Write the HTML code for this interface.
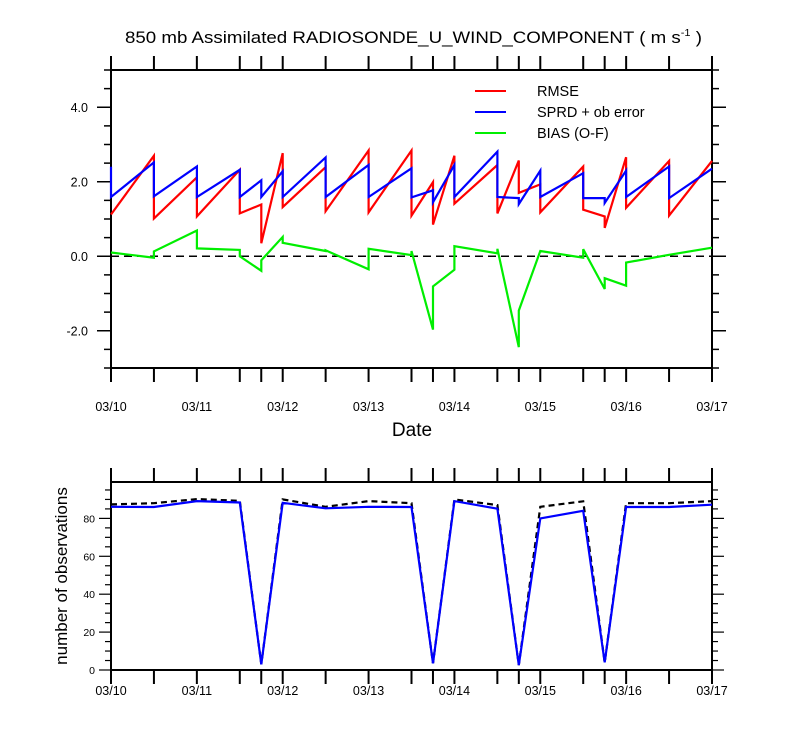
<!DOCTYPE html>
<html><head><meta charset="utf-8"><style>
body{margin:0;background:#fff;}
svg{display:block;font-family:"Liberation Sans",Arial,sans-serif;}
</style></head><body>
<svg id="chart" width="800" height="750"></svg>
<script>
const dateLabels=["03/10","03/11","03/12","03/13","03/14","03/15","03/16","03/17"];
const tickTimes=[0,0.5,1,1.5,1.75,2,2.5,3,3.5,3.75,4,4.5,4.75,5,5.5,5.75,6,6.5,7];
const rmseT=[0,0.5,0.5,1,1,1.5,1.5,1.75,1.75,2,2,2.5,2.5,3,3,3.5,3.5,3.75,3.75,4,4,4.5,4.5,4.75,4.75,5,5,5.5,5.5,5.75,5.75,6,6,6.5,6.5,7];
const rmseV=[1.12,2.7,1.01,2.12,1.07,2.32,1.15,1.39,0.35,2.77,1.32,2.39,1.21,2.84,1.18,2.84,1.09,1.99,0.85,2.7,1.41,2.45,1.15,2.57,1.7,1.93,1.18,2.41,1.25,1.07,0.76,2.66,1.3,2.56,1.09,2.56];
const sprdT=[0,0,0.5,0.5,1,1,1.5,1.5,1.75,1.75,2,2,2.5,2.5,3,3,3.5,3.5,3.75,3.75,4,4,4.5,4.5,4.75,4.75,5,5,5.5,5.5,5.75,5.75,6,6,6.5,6.5,7];
const sprdV=[2.4,1.59,2.52,1.61,2.41,1.59,2.32,1.59,2.04,1.59,2.28,1.59,2.65,1.59,2.45,1.59,2.36,1.58,1.77,1.45,2.45,1.59,2.81,1.59,1.56,1.4,2.3,1.59,2.23,1.56,1.56,1.43,2.3,1.59,2.41,1.56,2.35];
const biasT=[0,0.5,0.5,1,1,1.5,1.5,1.75,1.75,2,2,2.5,2.5,3,3,3.5,3.5,3.75,3.75,4,4,4.5,4.5,4.75,4.75,5,5.5,5.5,5.75,5.75,6,6,6.5,7];
const biasV=[0.1,-0.04,0.13,0.69,0.21,0.17,0,-0.39,-0.11,0.52,0.36,0.14,0.16,-0.35,0.2,0.03,0.14,-1.97,-0.81,-0.36,0.27,0.08,0.2,-2.44,-1.46,0.14,-0.04,0.19,-0.88,-0.59,-0.79,-0.17,0.04,0.23];
const topYTicks=[-2,0,2,4];
const topYLabels=["-2.0","0.0","2.0","4.0"];
const obsUsed=[86.1,86,89.1,88.4,3,88.2,85.3,86.1,86,3.5,89.1,85.1,2.6,80,84,4,86,86,87.2];
const obsPoss=[87.4,88,90.2,89.3,3,90,86.1,89.1,88,3.5,90,87,2.6,86.1,89,4,88,88,89.1];
const botYTicks=[0,20,40,60,80];

const NS="http://www.w3.org/2000/svg";
const svg=document.getElementById('chart');
function mk(tag,attrs,parent){const e=document.createElementNS(NS,tag);for(const k in attrs)e.setAttribute(k,attrs[k]);(parent||svg).appendChild(e);return e;}
const X0=111,X1=712;
const xS=t=>X0+(X1-X0)*t/7;
const T={top:70,bot:368,min:-3,max:5};
const yT=v=>T.bot-(v-T.min)/(T.max-T.min)*(T.bot-T.top);
const B={top:482,bot:670,min:0,max:99.2};
const yB=v=>B.bot-(v-B.min)/(B.max-B.min)*(B.bot-B.top);

// title
let t=mk('text',{x:125,y:43,'font-size':17,fill:'#000',textLength:577,lengthAdjust:'spacingAndGlyphs'});


t.innerHTML='850 mb Assimilated RADIOSONDE_U_WIND_COMPONENT ( m s<tspan font-size="10" dy="-7">-1</tspan><tspan dy="7"> )</tspan>';

function frame(top,bot,name){
  const r=mk('rect',{x:X0,y:top,width:X1-X0,height:bot-top,fill:'none',stroke:'#000','stroke-width':2});
  
  
  tickTimes.forEach(tt=>{
    const x=xS(tt);
    const a=mk('line',{x1:x,x2:x,y1:top-14,y2:top,stroke:'#000','stroke-width':2});
    
    
    const b=mk('line',{x1:x,x2:x,y1:bot,y2:bot+14,stroke:'#000','stroke-width':2});
    
    
  });
}
function xLabels(y,name){
  dateLabels.forEach((d,i)=>{
    const e=mk('text',{x:xS(i),y:y,'font-size':12.5,'text-anchor':'middle',fill:'#000'});
    
    
    e.textContent=d;
  });
}
// top panel
frame(T.top,T.bot,'top-plot-frame');
for(let v=T.min;v<=T.max+1e-9;v+=0.5){
  const y=yT(v);const maj=topYTicks.includes(v);
  const L=maj?14:7;
  const a=mk('line',{x1:X0-L,x2:X0,y1:y,y2:y,stroke:'#000','stroke-width':1.5});
  
  
  const b=mk('line',{x1:X1,x2:X1+L,y1:y,y2:y,stroke:'#000','stroke-width':1.5});
  
  
}
topYTicks.forEach((v,i)=>{
  const e=mk('text',{x:88,y:yT(v)+4.5,'font-size':12.5,'text-anchor':'end',fill:'#000'});
  
  
  e.textContent=topYLabels[i];
});
xLabels(411,'x-tick-label');
let dl=mk('text',{x:412,y:436,'font-size':19,'text-anchor':'middle',fill:'#000'});


dl.textContent='Date';
let zl=mk('line',{x1:X0,x2:X1,y1:yT(0),y2:yT(0),stroke:'#000','stroke-width':1.6,'stroke-dasharray':'8,5'});



function series(ts,vs,xf,yf,color,name,dash){
  const pts=ts.map((tt,i)=>xf(tt).toFixed(1)+','+yf(vs[i]).toFixed(1)).join(' ');
  const p=mk('polyline',{points:pts,fill:'none',stroke:color,'stroke-width':2.2,'stroke-linejoin':'miter'});
  if(dash)p.setAttribute('stroke-dasharray',dash);
  
  
}
series(biasT,biasV,xS,yT,'#00ee00','bias-line');
series(rmseT,rmseV,xS,yT,'#ff0000','rmse-line');
series(sprdT,sprdV,xS,yT,'#0000ff','sprd-line');

// legend
[['RMSE','#ff0000'],['SPRD + ob error','#0000ff'],['BIAS (O-F)','#00ee00']].forEach((l,i)=>{
  const y=91+i*21;
  const a=mk('line',{x1:475,x2:506,y1:y,y2:y,stroke:l[1],'stroke-width':2});
  
  
  const e=mk('text',{x:537,y:y+5,'font-size':14.5,fill:'#000'});
  
  
  e.textContent=l[0];
});

// bottom panel
frame(B.top,B.bot,'bottom-plot-frame');
for(let v=0;v<=95;v+=5){
  const y=yB(v);const maj=v%20===0;
  const L=maj?12:6;
  const a=mk('line',{x1:X0-L,x2:X0,y1:y,y2:y,stroke:'#000','stroke-width':1.2});
  
  
  const b=mk('line',{x1:X1,x2:X1+L,y1:y,y2:y,stroke:'#000','stroke-width':1.2});
  
  
}
botYTicks.forEach(v=>{
  const e=mk('text',{x:95,y:yB(v)+4,'font-size':10.5,'text-anchor':'end',fill:'#000'});
  
  
  e.textContent=v;
});
xLabels(695,'obs-x-tick-label');
let yl=mk('text',{x:0,y:0,'font-size':17,'text-anchor':'middle',fill:'#000',transform:'translate(67,576) rotate(-90)'});


yl.textContent='number of observations';
series(tickTimes,obsPoss,xS,yB,'#000','obs-possible-line','6,4');
series(tickTimes,obsUsed,xS,yB,'#0000ff','obs-used-line');
</script>
</body></html>
